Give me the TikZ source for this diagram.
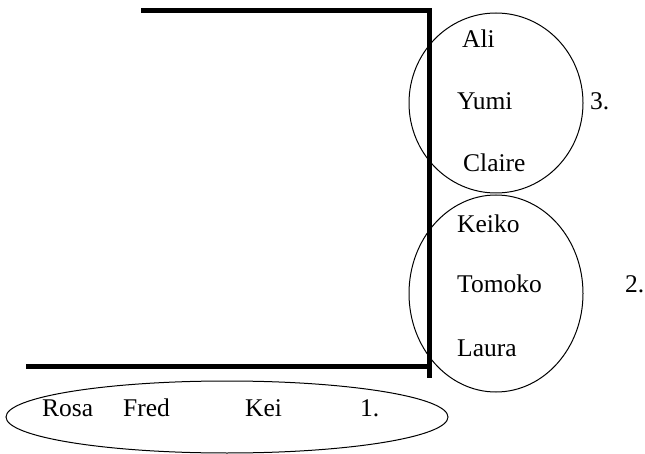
\documentclass[tikz,border=0pt]{standalone}
\usepackage{fontspec}
\setmainfont{Liberation Serif}
\usepackage{tikz}
\usetikzlibrary{shapes.geometric}

\tikzset{
  wall/.style={line width=5pt, line join=miter},
  group/.style={draw, ellipse, line width=1pt, inner sep=0pt},
  person/.style={anchor=base west, inner sep=0pt, font=\fontsize{25.5}{30}\selectfont},
}

\begin{document}
\begin{tikzpicture}[x=1pt, y=-1pt]
    \useasboundingbox (0,0) rectangle (645,454);
    % walls of the room
    \draw[wall] (141,10.5) -- (429,10.5) -- (429,378);
    \draw[wall] (26,366.5) -- (431,366.5);
    % groups
    \node[group, minimum width=174pt, minimum height=180pt] (g3) at (496,103) {};
    \node[group, minimum width=174pt, minimum height=197pt] (g2) at (496,293.5) {};
    \node[group, minimum width=442pt, minimum height=72pt] (g1) at (227,417) {};
    % group 3
    \node[person] (ali) at (462,48) {Ali};
    \node[person] (yumi) at (457,110) {Yumi};
    \node[person] (claire) at (463,172) {Claire};
    \node[person] (n3) at (590,110) {3.};
    % group 2
    \node[person] (keiko) at (457,233) {Keiko};
    \node[person] (tomoko) at (457,293) {Tomoko};
    \node[person] (laura) at (457,356) {Laura};
    \node[person] (n2) at (625,293) {2.};
    % group 1
    \node[person] (rosa) at (42,416) {Rosa};
    \node[person] (fred) at (123,416) {Fred};
    \node[person] (kei) at (245,416) {Kei};
    \node[person] (n1) at (360,416) {1.};
\end{tikzpicture}
\end{document}
